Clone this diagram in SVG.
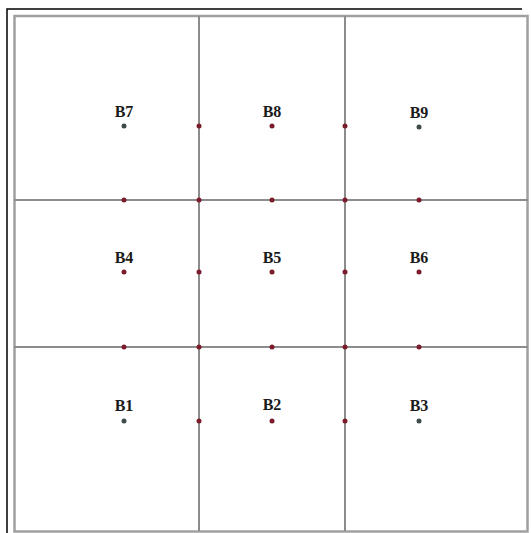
<svg xmlns="http://www.w3.org/2000/svg" width="531" height="533" viewBox="0 0 531 533">
<style>
.frame{fill:none;stroke:#a0a0a0;stroke-width:2.5}
.grid{stroke:#8c8c8c;stroke-width:2}
.black{fill:none;stroke:#000;stroke-width:1.5}
.lbl{font-family:"Liberation Serif","Times New Roman",serif;font-weight:bold;font-size:16px;fill:#1a1a1a;text-anchor:middle}
.cd{fill:#3e4a4a}
.rd{fill:#7a1c2c}
</style>
<rect width="531" height="533" fill="#fff"/>
<polyline class="black" points="7,533 7,9 522,9"/>
<rect class="frame" x="14.5" y="16" width="513" height="515.5"/>
<g id="connectors">
<line class="grid" x1="199" y1="16" x2="199" y2="531"/>
<line class="grid" x1="345" y1="16" x2="345" y2="531"/>
<line class="grid" x1="14" y1="200" x2="528" y2="200"/>
<line class="grid" x1="14" y1="347" x2="528" y2="347"/>
<g class="rd">
<circle cx="199" cy="126" r="2.5"/><circle cx="345" cy="126" r="2.5"/>
<circle cx="199" cy="272" r="2.5"/><circle cx="345" cy="272" r="2.5"/>
<circle cx="199" cy="421" r="2.5"/><circle cx="345" cy="421" r="2.5"/>
<circle cx="124" cy="200" r="2.5"/><circle cx="199" cy="200" r="2.5"/><circle cx="272" cy="200" r="2.5"/><circle cx="345" cy="200" r="2.5"/><circle cx="419" cy="200" r="2.5"/>
<circle cx="124" cy="347" r="2.5"/><circle cx="199" cy="347" r="2.5"/><circle cx="272" cy="347" r="2.5"/><circle cx="345" cy="347" r="2.5"/><circle cx="419" cy="347" r="2.5"/>
</g>
</g>
<g id="B7"><text class="lbl" x="124" y="117">B7</text><circle class="cd" cx="124" cy="126" r="2.5"/></g>
<g id="B8"><text class="lbl" x="272" y="117">B8</text><circle class="rd" cx="272" cy="126" r="2.5"/></g>
<g id="B9"><text class="lbl" x="419" y="118">B9</text><circle class="cd" cx="419" cy="127" r="2.5"/></g>
<g id="B4"><text class="lbl" x="124" y="263">B4</text><circle class="rd" cx="124" cy="272" r="2.5"/></g>
<g id="B5"><text class="lbl" x="272" y="263">B5</text><circle class="rd" cx="272" cy="272" r="2.5"/></g>
<g id="B6"><text class="lbl" x="419" y="263">B6</text><circle class="rd" cx="419" cy="272" r="2.5"/></g>
<g id="B1"><text class="lbl" x="124" y="411">B1</text><circle class="cd" cx="124" cy="421" r="2.5"/></g>
<g id="B2"><text class="lbl" x="272" y="410">B2</text><circle class="rd" cx="272" cy="421" r="2.5"/></g>
<g id="B3"><text class="lbl" x="419" y="411">B3</text><circle class="cd" cx="419" cy="421" r="2.5"/></g>
</svg>
